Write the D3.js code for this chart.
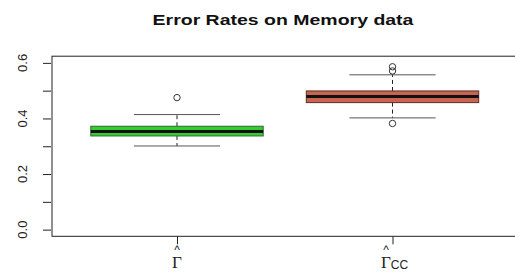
<!DOCTYPE html>
<html>
<head>
<meta charset="utf-8">
<script src="https://cdn.jsdelivr.net/npm/d3@7"></script>
<style>
  body { margin: 0; background: #fff; }
  text { font-family: "Liberation Sans", Arial, sans-serif; }
</style>
</head>
<body>
<script>
// box statistics
const groups = ["\u0393", "\u0393"];
const subs = ["", "CC"];
const lowerWhisker = [0.301, 0.402];
const q1 = [0.337, 0.457];
const medians = [0.353, 0.479];
const q3 = [0.372, 0.499];
const upperWhisker = [0.414, 0.557];
const outliers = [[0.475], [0.586, 0.571, 0.382]];
const fills = ["#33cc33", "#c8644f"];
const borders = ["#2d6b2d", "#5a2e27"];
const yTicks = [0, 0.1, 0.2, 0.3, 0.4, 0.5, 0.6];
const yLabels = [0, 0.2, 0.4, 0.6];

const width = 515, height = 272;
const svg = d3.select("body").append("svg")
  .attr("width", width)
  .attr("height", height);

// plot region like R: xlim 0.42..2.58, ylim -0.024..0.624
const x = d3.scaleLinear().domain([0.42, 2.58]).range([52, 517.5]);
const y = d3.scaleLinear().domain([-0.024, 0.624]).range([236.3, 56.2]);

// frame
svg.append("rect")
  .attr("x", x(0.42)).attr("y", y(0.624))
  .attr("width", x(2.58) - x(0.42)).attr("height", y(-0.024) - y(0.624))
  .attr("fill", "none").attr("stroke", "#222").attr("stroke-width", 1);

// y axis
let yAxis = d3.axisLeft(y).tickValues(yTicks).tickSize(8).tickFormat("");
let yg = svg.append("g").attr("transform", "translate(" + (x(0.42) - 1) + ",0)").call(yAxis);
yg.select(".domain").remove();
yg.selectAll("line").attr("stroke", "#222");

svg.selectAll(".ylab")
  .data(yLabels)
  .enter()
  .append("text")
    .attr("transform", d => "translate(27," + y(d) + ")rotate(-90)")
    .attr("text-anchor", "middle")
    .style("font-size", "13px")
    .attr("fill", "#222")
    .text(d => d3.format(".1f")(d));

// x ticks
let xAxis = d3.axisBottom(x).tickValues([1, 2]).tickSize(8).tickFormat("");
let xg = svg.append("g").attr("transform", "translate(0," + y(-0.024) + ")").call(xAxis);
xg.select(".domain").remove();
xg.selectAll("line").attr("stroke", "#222");

// x labels: hat over gamma, second one with CC subscript
groups.forEach((g, i) => {
  let cx = x(i + 1);
  let shift = subs[i] ? -6.5 : 0;
  let lab = svg.append("text")
    .attr("transform", "translate(" + (cx + shift) + ",0)")
    .attr("text-anchor", "middle")
    .attr("fill", "#222");
  lab.append("tspan")
    .attr("x", 0).attr("y", 254)
    .style("font-size", "12px")
    .text("^");
  lab.append("tspan")
    .attr("x", 0).attr("y", 268)
    .style("font-family", "'Liberation Serif', serif")
    .style("font-size", "17px")
    .text(g);
  if (subs[i]) {
    lab.append("tspan")
      .attr("x", 13.5).attr("y", 269)
      .style("font-size", "12px")
      .text(subs[i]);
  }
});

// boxes
const half = 0.4, capHalf = 0.2;
groups.forEach((g, i) => {
  let c = i + 1;
  // dashed whiskers
  svg.append("line")
    .attr("x1", x(c)).attr("x2", x(c))
    .attr("y1", y(q3[i])).attr("y2", y(upperWhisker[i]))
    .attr("stroke", "#222").attr("stroke-dasharray", "4,3");
  svg.append("line")
    .attr("x1", x(c)).attr("x2", x(c))
    .attr("y1", y(q1[i])).attr("y2", y(lowerWhisker[i]))
    .attr("stroke", "#222").attr("stroke-dasharray", "4,3");
  // caps
  [upperWhisker[i], lowerWhisker[i]].forEach(v => {
    svg.append("line")
      .attr("x1", x(c - capHalf)).attr("x2", x(c + capHalf))
      .attr("y1", y(v)).attr("y2", y(v))
      .attr("stroke", "#555");
  });
  // box
  svg.append("rect")
    .attr("x", x(c - half)).attr("y", y(q3[i]))
    .attr("width", x(c + half) - x(c - half))
    .attr("height", y(q1[i]) - y(q3[i]))
    .attr("fill", fills[i]).attr("stroke", borders[i]).attr("stroke-width", 1);
  // median
  svg.append("line")
    .attr("x1", x(c - half)).attr("x2", x(c + half))
    .attr("y1", y(medians[i])).attr("y2", y(medians[i]))
    .attr("stroke", "#111").attr("stroke-width", 3);
  // outliers
  svg.selectAll(".out" + i)
    .data(outliers[i])
    .enter()
    .append("circle")
      .attr("cx", x(c)).attr("cy", d => y(d))
      .attr("r", 3.2)
      .attr("fill", "none").attr("stroke", "#333");
});

// title (the source image is stretched sideways, so widen the glyphs)
svg.append("text")
  .attr("transform", "translate(283,25)scale(1.3,1)")
  .attr("text-anchor", "middle")
  .style("font-size", "15px")
  .style("font-weight", "bold")
  .attr("fill", "#111")
  .text("Error Rates on Memory data");
</script>
</body>
</html>
